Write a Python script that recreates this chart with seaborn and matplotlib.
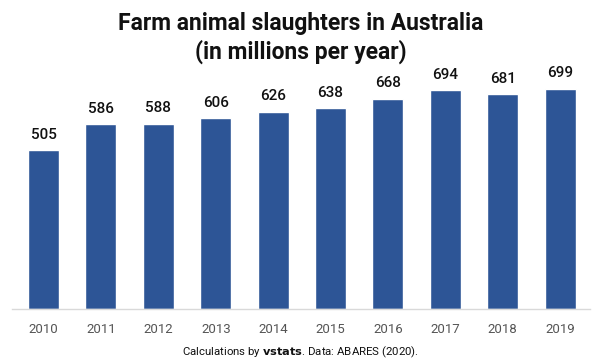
import pandas as pd
import matplotlib.pyplot as plt
import seaborn as sns

# datos
years = ['2010', '2011', '2012', '2013', '2014', '2015', '2016', '2017', '2018', '2019']
slaughters = [505, 586, 588, 606, 626, 638, 668, 694, 681, 699]

df = pd.DataFrame({'year': years, 'value': slaughters})

sns.set_theme(style='white')
plt.rcParams['font.family'] = ['Roboto', 'DejaVu Sans']

fig = plt.figure(figsize=(6.02, 3.64), dpi=100)
ax = fig.add_axes([12 / 602, 1 - 309 / 364, 578 / 602, 229 / 364])

sns.barplot(data=df, x='year', y='value', color='#2d5596', width=0.54,
            saturation=1, ax=ax)

ax.set_xlim(-0.55, 9.52)
ax.set_ylim(0, 727)

# etiquetas de valor encima de cada barra
for i, v in enumerate(slaughters):
    ax.annotate(str(v), (i, v), xytext=(0, 6), textcoords='offset points',
                ha='center', va='bottom', fontsize=11, fontweight='medium',
                color='#111111')

for s in ['top', 'right', 'left']:
    ax.spines[s].set_visible(False)
ax.spines['bottom'].set_color('#d9d9d9')
ax.spines['bottom'].set_linewidth(1)
ax.set_yticks([])
ax.set_xlabel('')
ax.set_ylabel('')
ax.tick_params(axis='x', length=0, pad=10, labelsize=9.5, labelcolor='#555555')

fig.text(0.5, 1 - 38 / 364, 'Farm animal slaughters in Australia\n(in millions per year)',
         ha='center', va='center', fontsize=16.5, fontweight='bold',
         linespacing=1.2, color='#111111')

fig.text(0.5, 1 - 352 / 364, r'Calculations by $\bf{vstats}$. Data: ABARES (2020).',
         ha='center', va='center', fontsize=8.2, color='#111111')

fig.savefig('out.png', dpi=100, facecolor='white')
